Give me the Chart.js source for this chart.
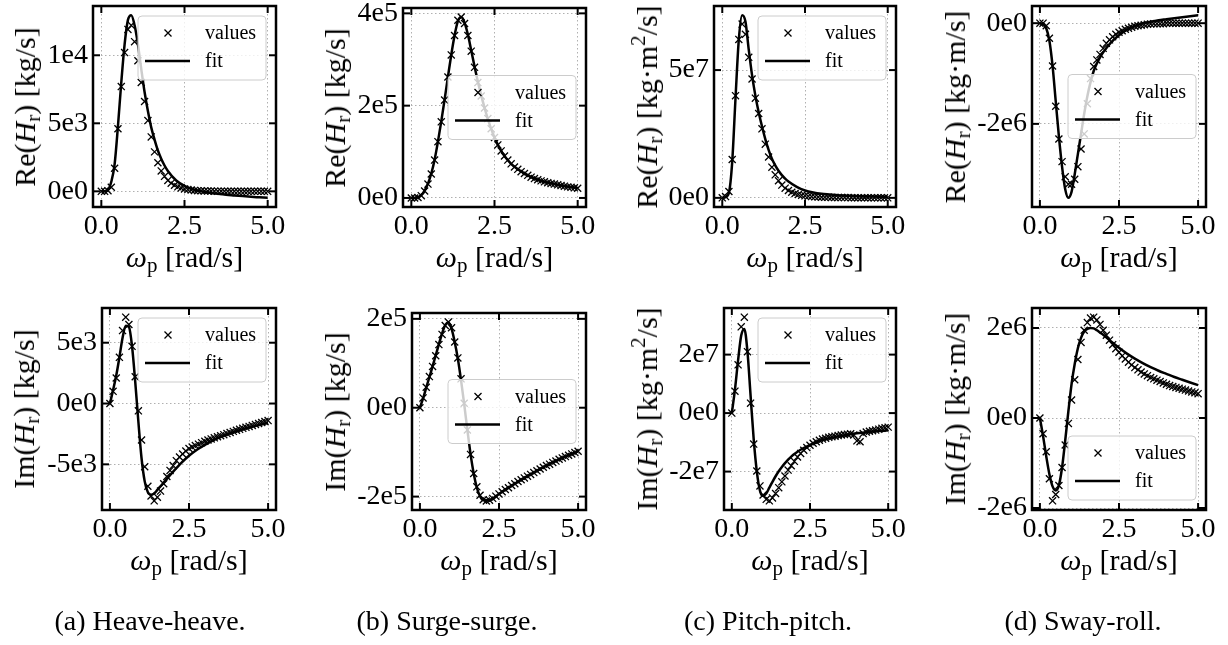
<!DOCTYPE html>
<html>
<head>
<meta charset="utf-8">
<script src="https://cdn.jsdelivr.net/npm/chart.js@4.4.1/dist/chart.umd.min.js"></script>
<style>
  html, body { margin: 0; padding: 0; background: #fff; }
  #fig { position: relative; width: 1228px; height: 645px; overflow: hidden; background: #fff;
         font-family: 'Liberation Serif', serif; color: #000; }
  #fig canvas { position: absolute; }
  .lab { position: absolute; white-space: nowrap; font-size: 30px; line-height: 1; transform: translate(-50%, -50%); }
  .lab.y { transform: translate(-50%, -50%) rotate(-90deg); }
  .lab sub { font-size: 70%; vertical-align: -0.22em; line-height: 0; }
  .lab sup { font-size: 70%; vertical-align: 0.55em; line-height: 0; }
  .cap { position: absolute; white-space: nowrap; font-size: 28px; transform: translate(-50%, -50%); }
</style>
</head>
<body>
<div id="fig"></div>
<script>
// frequencies of the computed values and of the fitted curve [rad/s]
const omega = [0, 0.1, 0.2, 0.3, 0.4, 0.5, 0.6, 0.7, 0.8, 0.9, 1.0, 1.1, 1.2, 1.3, 1.4, 1.5, 1.6, 1.7, 1.8, 1.9,
  2.0, 2.1, 2.2, 2.3, 2.4, 2.5, 2.6, 2.7, 2.8, 2.9, 3.0, 3.1, 3.2, 3.3, 3.4, 3.5, 3.6, 3.7, 3.8, 3.9,
  4.0, 4.1, 4.2, 4.3, 4.4, 4.5, 4.6, 4.7, 4.8, 4.9, 5.0]
const fitOmega = [0, 0.1, 0.2, 0.3, 0.4, 0.5, 0.6, 0.7, 0.8, 0.9, 1.0, 1.1, 1.2, 1.3, 1.4, 1.5, 1.6, 1.7, 1.8, 1.9, 2.0,
  2.25, 2.5, 2.75, 3.0, 3.25, 3.5, 3.75, 4.0, 4.25, 4.5, 4.75, 5.0]
const xTicks = [0, 2.5, 5]
const xTickLabels = ["0.0", "2.5", "5.0"]

// (a) heave-heave, x1e3 kg/s
const heaveReValues = [0, 0, 0.05, 0.3, 1.7, 4.6, 7.7, 10.2, 11.9, 12.2, 11.0, 9.6, 8.0, 6.6, 5.2, 4.0, 2.9, 2.1, 1.5, 1.1,
  0.8, 0.6, 0.45, 0.33, 0.25, 0.18, 0.13, 0.1, 0.07, 0.05, 0.04, 0.03, 0.02, 0.02, 0.01, 0.01, 0.01, 0, 0, 0,
  0, 0, 0, 0, 0, 0, 0, 0, 0, 0, 0]
const heaveReFit = [0, 0, 0.1, 0.7, 2.0, 4.8, 8.0, 10.8, 12.6, 12.95, 12.2, 10.8, 9.0, 7.3, 5.9, 4.7, 3.8, 3.0, 2.4, 1.9, 1.5,
  0.8, 0.4, 0.15, 0, -0.1, -0.18, -0.25, -0.3, -0.35, -0.4, -0.44, -0.48]
const heaveReTicks = [0, 5, 10]
const heaveReTickLabels = ["0e0", "5e3", "1e4"]

const heaveImValues = [0, 1.0, 2.1, 3.8, 6.0, 7.1, 6.5, 4.7, 2.2, -0.6, -3.0, -5.2, -6.8, -7.6, -8.0, -7.7, -7.2, -6.6, -6.0, -5.5,
  -5.1, -4.7, -4.4, -4.15, -3.9, -3.7, -3.58, -3.46, -3.34, -3.22, -3.1, -3.0, -2.91, -2.82, -2.73, -2.65, -2.56, -2.47, -2.38, -2.29,
  -2.2, -2.12, -2.04, -1.96, -1.88, -1.8, -1.72, -1.64, -1.56, -1.48, -1.4]
const heaveImFit = [0, 1.1, 2.3, 3.8, 5.4, 6.4, 6.3, 4.7, 1.8, -1.5, -4.5, -6.4, -7.3, -7.5, -7.4, -7.1, -6.8, -6.5, -6.2, -5.9, -5.6,
  -4.9, -4.3, -3.8, -3.4, -3.05, -2.75, -2.5, -2.28, -2.08, -1.9, -1.75, -1.6]
const heaveImTicks = [-5, 0, 5]
const heaveImTickLabels = ["-5e3", "0e0", "5e3"]

// (b) surge-surge, x1e3 kg/s
const surgeReValues = [0, 0, 1, 5, 15, 30, 52, 82, 122, 165, 212, 262, 310, 352, 385, 392, 378, 352, 318, 283,
  250, 221, 195, 172, 150, 131, 115, 102, 91, 82, 74, 67, 62, 57, 53, 49, 45, 42, 39.5, 37,
  35, 33, 31.5, 30, 28.5, 27, 25.5, 24, 23, 22, 21]
const surgeReFit = [0, 0, 2, 6, 16, 31, 53, 83, 122, 166, 213, 262, 310, 352, 383, 392, 380, 354, 320, 285, 252,
  183, 131, 96, 74, 60, 49, 41, 35, 31, 27, 24.5, 21.5]
const surgeReTicks = [0, 200, 400]
const surgeReTickLabels = ["0e0", "2e5", "4e5"]

const surgeImValues = [0, 22, 46, 70, 93, 117, 142, 165, 185, 193, 180, 148, 112, 65, 10, -50, -105, -148, -178, -197,
  -207, -210, -208, -204, -199, -194, -189, -184, -180, -175, -171, -166, -162, -158, -154, -150, -146, -142, -138, -134,
  -130, -127, -123, -120, -116, -113, -110, -107, -104, -101, -98]
const surgeImFit = [0, 21, 45, 69, 93, 118, 143, 167, 186, 192, 178, 148, 110, 62, 8, -50, -104, -148, -180, -199, -208,
  -207, -194, -182, -171, -160, -150, -140, -130, -121, -113, -105, -98]
const surgeImTicks = [-200, 0, 200]
const surgeImTickLabels = ["-2e5", "0e0", "2e5"]

// (c) pitch-pitch, x1e6 kg m^2/s
const pitchReValues = [0, 0.5, 2.5, 15, 40, 62, 68, 64, 55, 46.5, 39, 33, 27, 21, 16, 12, 9, 6.7, 5, 3.8,
  2.9, 2.2, 1.7, 1.3, 1.0, 0.8, 0.6, 0.5, 0.4, 0.3, 0.25, 0.2, 0.2, 0.15, 0.15, 0.1, 0.1, 0.1, 0.1, 0.05,
  0.05, 0.05, 0.05, 0.05, 0.05, 0, 0, 0, 0, 0, 0]
const pitchReFit = [0, 0.3, 2, 14, 39, 62, 71.5, 69, 58, 48, 40, 33.5, 28, 23, 18.8, 15.3, 12.7, 10.6, 8.9, 7.5, 6.4,
  4.3, 2.9, 2.1, 1.6, 1.3, 1.0, 0.85, 0.7, 0.6, 0.5, 0.42, 0.35]
const pitchReTicks = [0, 50]
const pitchReTickLabels = ["0e0", "5e7"]

const pitchImValues = [0, 7.5, 16.5, 29.5, 32.8, 21, 3.4, -10.6, -19.8, -24.9, -28, -29.5, -30, -29, -27.5, -25.5, -23.5, -21.5, -19.5, -18,
  -16.5, -15, -13.8, -12.7, -11.8, -11, -10.3, -9.8, -9.3, -8.9, -8.6, -8.3, -8.1, -7.9, -7.7, -7.5, -7.3, -7.2, -7.1, -7.5,
  -9.5, -9.8, -7.0, -6.5, -6.2, -6.0, -5.8, -5.5, -5.2, -5.0, -4.8]
const pitchImFit = [0, 8, 18, 26.5, 28.8, 21, 6, -9, -20, -26.5, -28.3, -27.5, -25.5, -23.5, -21.6, -19.9, -18.4, -17.1, -15.9, -14.9, -14.0,
  -12.2, -10.9, -9.8, -8.9, -8.3, -7.8, -7.3, -6.9, -6.6, -6.3, -6.1, -5.9]
const pitchImTicks = [-20, 0, 20]
const pitchImTickLabels = ["-2e7", "0e0", "2e7"]

// (d) sway-roll, x1e6 kg m/s
const swayRollReValues = [0, 0, -0.05, -0.3, -0.85, -1.65, -2.3, -2.75, -3.05, -3.2, -3.2, -3.1, -2.85, -2.5, -2.2, -1.6, -1.1, -0.86, -0.73, -0.62,
  -0.5, -0.4, -0.33, -0.27, -0.22, -0.18, -0.15, -0.12, -0.1, -0.08, -0.06, -0.05, -0.04, -0.03, -0.02, -0.015, -0.01, -0.01, -0.01, -0.01,
  0, 0, 0, 0, 0, 0, 0, 0, 0, 0, 0]
const swayRollReFit = [0, -0.02, -0.1, -0.35, -0.85, -1.55, -2.25, -2.85, -3.3, -3.47, -3.35, -3.0, -2.6, -2.2, -1.8, -1.45, -1.17, -0.95, -0.8, -0.68, -0.58,
  -0.38, -0.24, -0.13, -0.06, 0, 0.03, 0.06, 0.08, 0.1, 0.12, 0.14, 0.16]
const swayRollReTicks = [-2, 0]
const swayRollReTickLabels = ["-2e6", "0e0"]

const swayRollImValues = [0, -0.35, -0.75, -1.35, -1.84, -1.7, -1.5, -1.1, -0.6, -0.12, 0.4, 0.85, 1.3, 1.68, 1.95, 2.12, 2.22, 2.24, 2.18, 2.08,
  1.95, 1.84, 1.73, 1.63, 1.54, 1.46, 1.38, 1.31, 1.24, 1.18, 1.12, 1.07, 1.02, 0.98, 0.94, 0.9, 0.87, 0.84, 0.81, 0.78,
  0.75, 0.72, 0.7, 0.68, 0.66, 0.64, 0.62, 0.6, 0.58, 0.56, 0.54]
const swayRollImFit = [0, -0.4, -0.85, -1.25, -1.52, -1.61, -1.5, -1.1, -0.5, 0.15, 0.75, 1.2, 1.55, 1.78, 1.92, 1.98, 2.0, 1.99, 1.95, 1.9, 1.85,
  1.7, 1.56, 1.43, 1.32, 1.22, 1.13, 1.05, 0.98, 0.91, 0.85, 0.79, 0.73]
const swayRollImTicks = [-2, 0, 2]
const swayRollImTickLabels = ["-2e6", "0e0", "2e6"]

const captions = ["(a) Heave-heave.", "(b) Surge-surge.", "(c) Pitch-pitch.", "(d) Sway-roll."]

const HR = "(<i>H</i><sub>r</sub>)"
const XLABEL = "<i>ω</i><sub>p</sub> [rad/s]"

// plot area [left, top, right, bottom] in page pixels
const panels = [
  { values: heaveReValues, fit: heaveReFit, ticks: heaveReTicks, labels: heaveReTickLabels,
    area: [93, 6, 276, 207], legend: "upper right", ylabel: "Re" + HR + " [kg/s]", ylabelX: 25 },
  { values: surgeReValues, fit: surgeReFit, ticks: surgeReTicks, labels: surgeReTickLabels,
    area: [403, 8, 586, 207], legend: "center right", ylabel: "Re" + HR + " [kg/s]", ylabelX: 335 },
  { values: pitchReValues, fit: pitchReFit, ticks: pitchReTicks, labels: pitchReTickLabels,
    area: [714, 6, 896, 207], legend: "upper right", ylabel: "Re" + HR + " [kg·m<sup>2</sup>/s]", ylabelX: 647 },
  { values: swayRollReValues, fit: swayRollReFit, ticks: swayRollReTicks, labels: swayRollReTickLabels,
    area: [1032, 6, 1206, 207], legend: "center right", ylabel: "Re" + HR + " [kg·m/s]", ylabelX: 955 },
  { values: heaveImValues, fit: heaveImFit, ticks: heaveImTicks, labels: heaveImTickLabels,
    area: [102, 308, 276, 510], legend: "upper right", ylabel: "Im" + HR + " [kg/s]", ylabelX: 24 },
  { values: surgeImValues, fit: surgeImFit, ticks: surgeImTicks, labels: surgeImTickLabels,
    area: [412, 313, 586, 510], legend: "center right", ylabel: "Im" + HR + " [kg/s]", ylabelX: 335 },
  { values: pitchImValues, fit: pitchImFit, ticks: pitchImTicks, labels: pitchImTickLabels,
    area: [724, 308, 896, 510], legend: "upper right", ylabel: "Im" + HR + " [kg·m<sup>2</sup>/s]", ylabelX: 647 },
  { values: swayRollImValues, fit: swayRollImFit, ticks: swayRollImTicks, labels: swayRollImTickLabels,
    area: [1032, 308, 1206, 510], legend: "lower right", ylabel: "Im" + HR + " [kg·m/s]", ylabelX: 955 }
]
const captionX = [150, 447, 768, 1083]
const captionY = 621

const FONT = "'Liberation Serif', serif"
const M = { l: 72, r: 24, t: 26, b: 34 }

// frame with inward ticks on all four sides, like the matplotlib style used
const frameTicks = {
  id: "frameTicks",
  afterDatasetsDraw(chart) {
    const { ctx, chartArea: a, scales } = chart
    const seg = (x1, y1, x2, y2) => { ctx.beginPath(); ctx.moveTo(x1, y1); ctx.lineTo(x2, y2); ctx.stroke() }
    ctx.save()
    ctx.strokeStyle = "#000"
    ctx.lineWidth = 2
    scales.x.ticks.forEach(t => {
      const px = scales.x.getPixelForValue(t.value)
      seg(px, a.bottom, px, a.bottom - 7)
      seg(px, a.top, px, a.top + 7)
    })
    scales.y.ticks.forEach(t => {
      const py = scales.y.getPixelForValue(t.value)
      seg(a.left, py, a.left + 7, py)
      seg(a.right, py, a.right - 7, py)
    })
    ctx.lineWidth = 2.5
    ctx.strokeRect(a.left, a.top, a.right - a.left, a.bottom - a.top)
    ctx.restore()
  }
}

const mplLegend = {
  id: "mplLegend",
  afterDraw(chart, args, opts) {
    const { ctx, chartArea: a } = chart
    const w = 128, h = 64
    const x = a.right - 10 - w
    let y = a.top + 10
    if (opts.loc === "center right") y = (a.top + a.bottom) / 2 - h / 2
    if (opts.loc === "lower right") y = a.bottom - 10 - h
    const ds = chart.data.datasets
    ctx.save()
    ctx.beginPath()
    ctx.roundRect(x, y, w, h, 4)
    ctx.fillStyle = "rgba(255,255,255,0.8)"
    ctx.fill()
    ctx.strokeStyle = "#cccccc"
    ctx.lineWidth = 1
    ctx.stroke()

    const mx = x + 30, my = y + 17, r = 3.5
    ctx.strokeStyle = "#000"
    ctx.lineWidth = ds[0].pointBorderWidth
    ctx.beginPath()
    ctx.moveTo(mx - r, my - r); ctx.lineTo(mx + r, my + r)
    ctx.moveTo(mx + r, my - r); ctx.lineTo(mx - r, my + r)
    ctx.stroke()

    ctx.lineWidth = ds[1].borderWidth
    ctx.beginPath()
    ctx.moveTo(x + 7, y + 45); ctx.lineTo(x + 52, y + 45)
    ctx.stroke()

    ctx.fillStyle = "#000"
    ctx.font = "20px " + FONT
    ctx.textBaseline = "middle"
    ctx.fillText(ds[0].label, x + 67, y + 18)
    ctx.fillText(ds[1].label, x + 67, y + 46)
    ctx.restore()
  }
}

const fig = document.getElementById("fig")

function addLabel(html, cls, left, top) {
  const d = document.createElement("div")
  d.className = cls
  d.innerHTML = html
  d.style.left = left + "px"
  d.style.top = top + "px"
  fig.appendChild(d)
}

panels.forEach(p => {
  const [L, T, R, B] = p.area
  const w = R - L + M.l + M.r
  const h = B - T + M.t + M.b
  const canvas = document.createElement("canvas")
  canvas.width = w
  canvas.height = h
  canvas.style.left = (L - M.l) + "px"
  canvas.style.top = (T - M.t) + "px"
  canvas.style.width = w + "px"
  canvas.style.height = h + "px"
  fig.appendChild(canvas)

  const all = p.values.concat(p.fit)
  const lo = Math.min(...all), hi = Math.max(...all)
  const pad = (hi - lo) * 0.05

  new Chart(canvas, {
    type: "line",
    data: {
      datasets: [
        {
          label: "values",
          data: omega.map((x, i) => ({ x: x, y: p.values[i] })),
          showLine: false,
          pointStyle: "crossRot",
          pointRadius: 5,
          pointBorderWidth: 1.3,
          pointBorderColor: "#000",
          borderColor: "#000",
          backgroundColor: "#000"
        },
        {
          label: "fit",
          data: fitOmega.map((x, i) => ({ x: x, y: p.fit[i] })),
          borderColor: "#000",
          borderWidth: 2.5,
          pointRadius: 0,
          fill: false,
          cubicInterpolationMode: "monotone"
        }
      ]
    },
    options: {
      responsive: false,
      animation: false,
      devicePixelRatio: 1,
      events: [],
      layout: { padding: { top: M.t, right: M.r, left: 0, bottom: 0 } },
      plugins: {
        legend: { display: false },
        tooltip: { enabled: false },
        mplLegend: { loc: p.legend }
      },
      scales: {
        x: {
          type: "linear",
          min: -0.25,
          max: 5.25,
          afterBuildTicks: s => { s.ticks = xTicks.map(v => ({ value: v })) },
          afterFit: s => { s.height = M.b },
          grid: { color: "#b0b0b0", lineWidth: 1, drawTicks: false },
          border: { display: false, dash: [1.5, 2.5] },
          ticks: {
            autoSkip: false, maxRotation: 0, minRotation: 0, padding: 3,
            color: "#000", font: { family: FONT, size: 28 },
            callback: (v, i) => xTickLabels[i]
          }
        },
        y: {
          type: "linear",
          min: lo - pad,
          max: hi + pad,
          afterBuildTicks: s => { s.ticks = p.ticks.map(v => ({ value: v })) },
          afterFit: s => { s.width = M.l },
          grid: { color: "#b0b0b0", lineWidth: 1, drawTicks: false },
          border: { display: false, dash: [1.5, 2.5] },
          ticks: {
            autoSkip: false, padding: 5,
            color: "#000", font: { family: FONT, size: 28 },
            callback: (v, i) => p.labels[i]
          }
        }
      }
    },
    plugins: [frameTicks, mplLegend]
  })

  addLabel(XLABEL, "lab", (L + R) / 2, B + 50)
  addLabel(p.ylabel, "lab y", p.ylabelX, (T + B) / 2)
})

captions.forEach((c, i) => addLabel(c, "cap", captionX[i], captionY))
</script>
</body>
</html>
